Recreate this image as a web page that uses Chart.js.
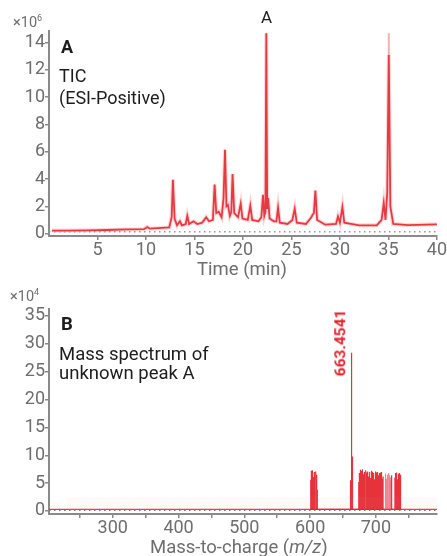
<!DOCTYPE html>
<html><head><meta charset="utf-8">
<script src="https://cdn.jsdelivr.net/npm/chart.js@4.4.1/dist/chart.umd.min.js"></script>
<style>
html,body{margin:0;padding:0;background:#fff;width:447px;height:556px;overflow:hidden;font-family:Roboto,sans-serif;}
canvas{position:absolute;left:0;}
#c1{top:0;}
#c2{top:280px;}
.t{position:absolute;white-space:nowrap;line-height:1;}
.g{color:#6e6e6e;}
.k{color:#1d1d1d;}
</style></head><body>
<canvas id="c1" width="447" height="280"></canvas>
<canvas id="c2" width="447" height="276"></canvas>
<div class="t g" style="left:13px;top:14px;font-size:14.5px;">×10<sup style="font-size:9px;vertical-align:6px;">6</sup></div>
<div class="t k" style="left:261px;top:8.5px;font-size:17px;">A</div>
<div class="t k" style="left:61px;top:37.5px;font-size:18px;font-weight:bold;">A</div>
<div class="t k" style="left:59px;top:66.5px;font-size:18px;">TIC</div>
<div class="t k" style="left:59px;top:89px;font-size:18px;">(ESI-Positive)</div>
<div class="t g" style="left:197px;top:259.5px;font-size:18.5px;">Time (min)</div>
<div class="t g" style="left:10px;top:288px;font-size:14.5px;">×10<sup style="font-size:9px;vertical-align:6px;">4</sup></div>
<div class="t k" style="left:61px;top:314.5px;font-size:18.5px;font-weight:bold;">B</div>
<div class="t k" style="left:59px;top:344.5px;font-size:18.5px;">Mass spectrum of</div>
<div class="t k" style="left:59px;top:364px;font-size:18.5px;">unknown peak A</div>
<div class="t" style="left:340.5px;top:343px;font-size:15.5px;font-weight:bold;color:#e0242e;transform:translate(-50%,-50%) rotate(-90deg);">663.4541</div>
<div class="t g" style="left:150px;top:537.5px;font-size:18.5px;">Mass-to-charge (<i>m/z</i>)</div>
<script>
// ---- Panel A: TIC ----
const ticTime = [0.3,2,4,6,8,9.8,10.13,10.4,12.4,12.65,12.78,12.95,13.2,13.5,13.7,14.1,14.26,14.45,14.9,15.3,15.8,16.21,16.5,16.9,17.08,17.25,17.5,17.8,18.0,18.15,18.3,18.45,18.65,18.8,18.93,19.1,19.5,19.77,19.95,20.5,20.76,20.95,21.6,21.9,22.07,22.2,22.32,22.41,22.5,22.6,22.75,23.2,23.45,23.62,23.8,24.6,25.1,25.34,25.55,26.5,27.05,27.2,27.32,27.47,27.65,28.5,29.6,29.8,30.0,30.26,30.45,32,33.8,34.3,34.52,34.7,34.88,35.04,35.2,35.5,37,40];
const ticInt  = [0.22,0.22,0.24,0.26,0.3,0.32,0.48,0.36,0.45,1.2,3.95,1.1,0.6,0.9,0.6,0.7,1.3,0.7,0.9,0.7,0.8,1.2,0.9,1.0,3.6,1.5,1.6,1.2,2.6,6.15,2.0,2.1,1.3,1.6,4.37,1.5,1.2,2.2,1.1,1.0,2.05,1.0,0.9,1.2,2.85,1.3,1.6,14.7,1.8,2.6,1.1,0.9,0.9,1.9,0.8,0.7,1.0,1.83,0.8,0.7,1.2,1.4,1.5,3.15,1.0,0.65,0.7,1.25,0.8,1.95,0.8,0.6,0.6,1.0,2.25,1.0,3.0,13.1,2.0,0.7,0.62,0.68];
const ticGhostTime = [35.04,35.04];
const ticGhostInt = [13.1,14.7];
const timeTicks = [5,10,15,20,25,30,35,40];
const ticYTicks = [0,2,4,6,8,10,12,14];

// ---- Panel B: mass spectrum ----
const specMz  = [601,602,603,604,605,606,607,608,609,610,611,
  661.5,662.5,663.5,664.5,
  674,675,676,677,678,679,680,681,682,683,684,685,686,687,688,689,690,691,692,693,694,695,696,697,698,699,700,701,702,703,704,705,706,707,708,709,710,711,
  723,724,
  729,730,731,732,733,734,735,736,737,738];
const specInt = [5.6,7.2,6.4,7.3,6.1,7.0,6.6,7.1,5.4,6.5,3.8,
  5.5,28.4,17.5,9.8,
  5.2,6.8,7.4,6.1,7.2,5.9,7.5,6.6,7.0,5.8,7.3,6.4,6.9,5.5,7.1,6.2,7.0,6.7,5.9,7.2,6.5,7.0,6.1,6.8,5.7,7.1,6.6,6.9,6.0,7.0,6.4,6.8,5.6,6.9,6.3,7.0,5.8,6.2,
  5.4,6.4,
  6.0,6.8,6.2,6.9,5.7,6.7,6.4,6.8,5.9,6.5];
const paleMz  = [714,715,716,717,718,719,720,721,722];
const paleInt = [6.0,6.7,5.8,6.5,6.2,6.8,5.5,6.4,6.0];
const specBaseline = 0.3;
const noiseMz = [230, 793];
const noiseInt = [2.5, 2.5];
const mzRange = [203, 793];
const mzTicks = [250,300,350,400,450,500,550,600,650,700,750];
const specYTicks = [0,5,10,15,20,25,30,35];

const AX = '#8a8a8a', TK = '#6e6e6e';
const tickFont = {family:'Roboto',size:18};
function axis(extra){
  return Object.assign({
    type:'linear',
    grid:{display:true,drawOnChartArea:false,drawTicks:true,tickLength:4,color:AX,lineWidth:1.5},
    border:{display:true,color:AX,width:2},
    ticks:{color:TK,font:tickFont,padding:0,autoSkip:false,maxRotation:0}
  }, extra);
}
function pts(xs, ys){ return xs.map((x,i)=>({x:x,y:ys[i]})); }
function sticks(xs, ys, base){ const d=[]; xs.forEach((m,i)=>{ d.push({x:m,y:base},{x:m,y:ys[i]},{x:m,y:base}); }); return d; }

const common = {responsive:false,animation:false,devicePixelRatio:1,
  plugins:{legend:{display:false},tooltip:{enabled:false}},
  elements:{point:{radius:0},line:{tension:0}}};

new Chart(document.getElementById('c1'), {
  type:'line',
  data:{datasets:[
    {data:pts([0,40],[0.14,0.14]),borderColor:'#8a9bb0',borderWidth:1.5,borderDash:[1.5,3.5]},
    {data:pts(ticTime,ticInt),borderColor:'rgba(240,90,100,0.25)',borderWidth:4},
    {data:pts(ticGhostTime,ticGhostInt),borderColor:'rgba(240,140,150,0.7)',borderWidth:2},
    {data:pts(ticTime,ticInt),borderColor:'rgba(226,28,38,0.92)',borderWidth:1.8}
  ]},
  options:Object.assign({}, common, {
    layout:{padding:{top:31,right:10,left:0,bottom:0}},
    scales:{
      x:axis({min:0,max:40,afterBuildTicks:s=>{s.ticks=timeTicks.map(v=>({value:v}));},afterFit:s=>{s.height=44;}}),
      y:axis({min:-0.18,max:14.86,afterBuildTicks:s=>{s.ticks=ticYTicks.map(v=>({value:v}));},afterFit:s=>{s.width=49;}})
    }
  })
});

new Chart(document.getElementById('c2'), {
  type:'line',
  data:{datasets:[
    {data:pts(noiseMz,noiseInt),borderColor:'rgba(0,0,0,0)',borderWidth:0,fill:'origin',backgroundColor:'rgba(240,150,165,0.05)'},
    {data:pts(mzRange,[0.15,0.15]),borderColor:'#8a6f78',borderWidth:1.5,borderDash:[1.5,3.5]},
    {data:pts(mzRange,[specBaseline,specBaseline]),borderColor:'rgba(226,28,38,0.85)',borderWidth:1.2},
    {data:sticks(paleMz,paleInt,specBaseline),borderColor:'rgba(240,120,140,0.75)',borderWidth:1},
    {data:sticks(specMz,specInt,specBaseline),borderColor:'rgba(226,28,38,0.9)',borderWidth:1.2}
  ]},
  options:Object.assign({}, common, {
    layout:{padding:{top:29,right:10,left:0,bottom:0}},
    scales:{
      x:axis({min:mzRange[0],max:mzRange[1],afterBuildTicks:s=>{s.ticks=mzTicks.map(v=>({value:v}));},
        ticks:{color:TK,font:tickFont,padding:0,autoSkip:false,maxRotation:0,callback:v=>(v%100===0?String(v):'')},
        afterFit:s=>{s.height=42;}}),
      y:axis({min:-0.54,max:36.25,afterBuildTicks:s=>{s.ticks=specYTicks.map(v=>({value:v}));},afterFit:s=>{s.width=49;}})
    }
  })
});
</script>
</body></html>
